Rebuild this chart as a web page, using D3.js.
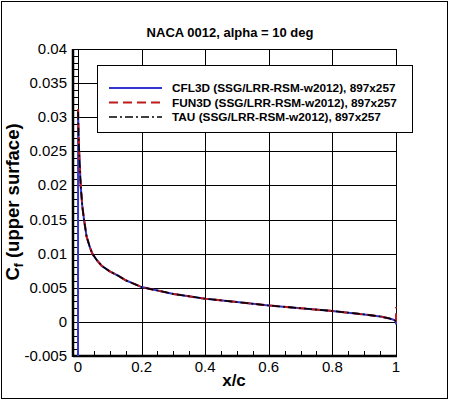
<!DOCTYPE html>
<html>
<head>
<meta charset="utf-8">
<script src="https://cdn.jsdelivr.net/npm/d3@7"></script>
<style>
  body { margin: 0; background: #fff; }
  svg { display: block; font-family: "Liberation Sans", Arial, Helvetica, sans-serif; }
</style>
</head>
<body>
<div id="chart"></div>
<script>
// Cf on the upper surface, NACA 0012 at 10 deg
const xCFL3D = [0, 0.0003, 0.001, 0.002, 0.004, 0.0085, 0.0136, 0.019, 0.027, 0.037, 0.045, 0.06, 0.075, 0.1, 0.125, 0.15, 0.175, 0.2, 0.25, 0.3, 0.4, 0.5, 0.6, 0.7, 0.8, 0.9, 0.95, 0.98, 1.0, 1.0];
const cfCFL3D = [-0.03, 0.031, 0.029, 0.027, 0.0245, 0.020, 0.0169, 0.015, 0.0125, 0.011, 0.0100, 0.0090, 0.0082, 0.0074, 0.0068, 0.0061, 0.0056, 0.0051, 0.0046, 0.0041, 0.0034, 0.0029, 0.0024, 0.0020, 0.0016, 0.0011, 0.0008, 0.0005, 0.0002, -0.0004];

const xFUN3D = [0.0003, 0.001, 0.002, 0.004, 0.0085, 0.0136, 0.019, 0.027, 0.037, 0.045, 0.06, 0.075, 0.1, 0.125, 0.15, 0.175, 0.2, 0.25, 0.3, 0.4, 0.5, 0.6, 0.7, 0.8, 0.9, 0.95, 0.98, 1.0, 1.0];
const cfFUN3D = [0.0312, 0.0292, 0.0271, 0.0246, 0.0201, 0.0170, 0.0150, 0.0125, 0.0110, 0.0100, 0.0090, 0.0082, 0.0074, 0.0068, 0.0061, 0.0056, 0.0051, 0.0046, 0.0041, 0.0034, 0.0029, 0.0024, 0.0020, 0.0016, 0.0011, 0.0008, 0.0005, 0.0002, 0.0022];

const xTAU = [0.0003, 0.001, 0.002, 0.004, 0.0085, 0.0136, 0.019, 0.027, 0.037, 0.045, 0.06, 0.075, 0.1, 0.125, 0.15, 0.175, 0.2, 0.25, 0.3, 0.4, 0.5, 0.6, 0.7, 0.8, 0.9, 0.95, 0.98, 1.0];
const cfTAU = [0.0308, 0.0290, 0.0270, 0.0245, 0.0200, 0.0169, 0.0150, 0.0125, 0.0110, 0.0100, 0.0090, 0.0082, 0.0074, 0.0068, 0.0061, 0.0056, 0.0051, 0.0046, 0.0041, 0.0034, 0.0029, 0.0024, 0.0020, 0.0016, 0.0011, 0.0008, 0.0005, 0.0001];

const seriesNames = ['CFL3D (SSG/LRR-RSM-w2012), 897x257',
                     'FUN3D (SSG/LRR-RSM-w2012), 897x257',
                     'TAU (SSG/LRR-RSM-w2012), 897x257'];
const xTicks = [0, 0.2, 0.4, 0.6, 0.8, 1];
const xTickLabels = ['0', '0.2', '0.4', '0.6', '0.8', '1'];
const yTicks = [-0.005, 0, 0.005, 0.01, 0.015, 0.02, 0.025, 0.03, 0.035, 0.04];
const yTickLabels = ['-0.005', '0', '0.005', '0.01', '0.015', '0.02', '0.025', '0.03', '0.035', '0.04'];

const width = 450, height = 401;
const plot = { left: 73, right: 396, top: 49, bottom: 356 };

const svg = d3.select('#chart').append('svg')
    .attr('width', width)
    .attr('height', height);

// outer frame
svg.append('rect')
    .attr('x', 1.5).attr('y', 1.5)
    .attr('width', 446).attr('height', 397)
    .attr('fill', 'none').attr('stroke', '#000').attr('stroke-width', 1);

const x = d3.scaleLinear().domain([-0.0157, 1]).range([plot.left, plot.right]);
const y = d3.scaleLinear().domain([-0.005, 0.04]).range([plot.bottom, plot.top]);

// title
svg.append('text')
    .attr('x', 230).attr('y', 37)
    .attr('text-anchor', 'middle')
    .style('font-size', '13px').style('font-weight', 'bold')
    .text('NACA 0012, alpha = 10 deg');

// grid
const grid = svg.append('g').attr('stroke', '#000').attr('stroke-width', 1);
grid.selectAll('.vg').data(xTicks).join('line')
    .attr('x1', d => Math.round(x(d)) + 0.5).attr('x2', d => Math.round(x(d)) + 0.5)
    .attr('y1', plot.top).attr('y2', plot.bottom);
grid.selectAll('.hg').data(yTicks).join('line')
    .attr('x1', plot.left).attr('x2', plot.right)
    .attr('y1', d => Math.round(y(d)) + 0.5).attr('y2', d => Math.round(y(d)) + 0.5);

// minor ticks (inward)
const yMinor = d3.range(-0.005, 0.04001, 0.001);
svg.append('g').selectAll('line').data(yMinor).join('line')
    .attr('x1', plot.left).attr('x2', plot.left + 5)
    .attr('y1', d => Math.round(y(d)) + 0.5).attr('y2', d => Math.round(y(d)) + 0.5)
    .attr('stroke', '#000');
const xMinor = d3.range(0, 1.0001, 0.05);
svg.append('g').selectAll('line').data(xMinor).join('line')
    .attr('x1', d => Math.round(x(d)) + 0.5).attr('x2', d => Math.round(x(d)) + 0.5)
    .attr('y1', plot.bottom).attr('y2', plot.bottom - 5)
    .attr('stroke', '#000');

// axes lines (thick left and bottom)
svg.append('line')
    .attr('x1', plot.left).attr('x2', plot.left)
    .attr('y1', plot.top).attr('y2', plot.bottom + 1)
    .attr('stroke', '#000').attr('stroke-width', 2.5);
svg.append('line')
    .attr('x1', plot.left).attr('x2', plot.right + 1)
    .attr('y1', plot.bottom).attr('y2', plot.bottom)
    .attr('stroke', '#000').attr('stroke-width', 2.5);

// tick labels
svg.append('g').selectAll('text').data(xTicks).join('text')
    .attr('x', d => x(d)).attr('y', 372)
    .attr('text-anchor', 'middle')
    .style('font-size', '15px')
    .text((d, i) => xTickLabels[i]);
svg.append('g').selectAll('text').data(yTicks).join('text')
    .attr('x', 67).attr('y', d => y(d) + 5)
    .attr('text-anchor', 'end')
    .style('font-size', '15px')
    .text((d, i) => yTickLabels[i]);

// axis titles
svg.append('text')
    .attr('x', 234).attr('y', 386)
    .attr('text-anchor', 'middle')
    .style('font-size', '17px').style('font-weight', 'bold')
    .text('x/c');
const yl = svg.append('text')
    .attr('transform', 'translate(19,202) rotate(-90)')
    .attr('text-anchor', 'middle')
    .style('font-size', '18.5px').style('font-weight', 'bold');
yl.append('tspan').text('C');
yl.append('tspan').attr('dy', 4).style('font-size', '12px').text('f');
yl.append('tspan').attr('dy', -4).text(' (upper surface)');

// data
svg.append('clipPath').attr('id', 'clip')
    .append('rect')
    .attr('x', plot.left).attr('y', plot.top)
    .attr('width', plot.right - plot.left + 2).attr('height', plot.bottom - plot.top);

const line = d3.line().x(d => x(d[0])).y(d => y(d[1]));
const styles = [
    { color: '#3535d0', dash: null, width: 2 },
    { color: '#c01a1a', dash: '9,5', width: 2 },
    { color: '#000000', dash: '8,3,2,3', width: 1.6 }
];
const series = [
    d3.zip(xCFL3D, cfCFL3D),
    d3.zip(xFUN3D, cfFUN3D),
    d3.zip(xTAU, cfTAU)
];
const dataG = svg.append('g').attr('clip-path', 'url(#clip)');
series.forEach((s, i) => {
    dataG.append('path')
        .datum(s)
        .attr('fill', 'none')
        .attr('stroke', styles[i].color)
        .attr('stroke-width', styles[i].width)
        .attr('stroke-dasharray', styles[i].dash)
        .attr('d', line);
});

// legend
const leg = svg.append('g');
leg.append('rect')
    .attr('x', 97.5).attr('y', 65.5)
    .attr('width', 315).attr('height', 67)
    .attr('fill', '#fff').attr('stroke', '#000');
const legRows = [88, 102.5, 117];
seriesNames.forEach((name, i) => {
    leg.append('line')
        .attr('x1', 109).attr('x2', 162)
        .attr('y1', legRows[i]).attr('y2', legRows[i])
        .attr('stroke', styles[i].color)
        .attr('stroke-width', styles[i].width)
        .attr('stroke-dasharray', styles[i].dash);
    leg.append('text')
        .attr('x', 172).attr('y', legRows[i] + 4)
        .style('font-size', '11.8px').style('font-weight', 'bold')
        .text(name);
});
</script>
</body>
</html>
